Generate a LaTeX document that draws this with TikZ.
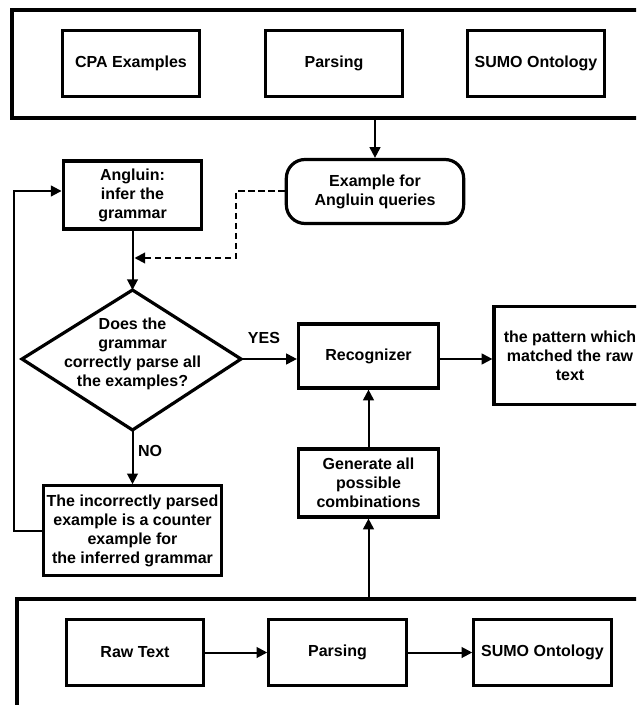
\documentclass[tikz,border=0pt]{standalone}
\usepackage{fontspec}
\setmainfont{Liberation Sans}
\usetikzlibrary{arrows.meta,fit}
\begin{document}
\begin{tikzpicture}[x=0.75pt,y=-0.75pt,
 box/.style={draw, line width=2.4pt, rectangle, align=center, font=\fontsize{12}{14.3}\selectfont\bfseries, inner sep=1pt},
 rowbox/.style={box, minimum width=103pt, minimum height=50pt},
 frame/.style={draw, line width=2.4pt, rectangle, inner sep=0pt},
 conn/.style={line width=1.5pt, -{Triangle[length=8pt,width=8pt]}},
 lbl/.style={font=\fontsize{12}{14.3}\selectfont\bfseries, inner sep=0pt}]
\useasboundingbox (0,0) rectangle (636,705);
\clip (0,0) rectangle (636,705);

% top frame and its boxes
\node[frame, fit={(12,10) (690,118)}] (topframe) {};
\node[rowbox] (cpa) at (131,63.5) {CPA Examples};
\node[rowbox] (par1) at (334,63.5) {Parsing};
\node[rowbox] (sumo1) at (536,63.5) {SUMO Ontology};

% middle part
\node[box, rounded corners=14pt, minimum width=133pt, minimum height=48pt] (exq) at (375,191.5) {Example for\\Angluin queries};
\node[box, minimum width=104pt, minimum height=51pt] (ang) at (132.5,195) {Angluin:\\infer the\\grammar};

\coordinate (dT) at (132.5,290);
\coordinate (dR) at (241,359);
\coordinate (dB) at (132.5,430);
\coordinate (dL) at (22,359);
\draw[line width=2.4pt, line join=miter] (dT) -- (dR) -- (dB) -- (dL) -- cycle;
\node[lbl, align=center] (dtext) at (132.5,354) {Does the\\grammar\\correctly parse all\\the examples?};

\node[box, minimum width=105pt, minimum height=48pt] (rec) at (368.5,356) {Recognizer};
\node[box, minimum width=114pt, minimum height=73pt] (pat) at (570,355.5) {the pattern which\\matched the raw\\text};
\node[box, minimum width=105pt, minimum height=51pt] (gen) at (368.5,483) {Generate all\\possible\\combinations};
\node[box, minimum width=134pt, minimum height=67pt] (inc) at (132.5,530.5) {The incorrectly parsed\\example is a counter\\example for\\the inferred grammar};

\node[lbl] (yes) at (264,338) {YES};
\node[lbl] (no) at (150,451) {NO};

% bottom frame and its boxes
\node[frame, fit={(17,599) (690,770)}] (botframe) {};
\node[rowbox] (raw) at (135,652.5) {Raw Text};
\node[rowbox] (par2) at (337.5,652.5) {Parsing};
\node[rowbox] (sumo2) at (542.5,652.5) {SUMO Ontology};

% connectors
\draw[conn] (topframe.south -| exq.north) -- (exq.north);
\draw[conn] (ang.south) -- (dT);
\coordinate (dashend) at (134.5,258);
\draw[conn, dash pattern=on 5pt off 2.5pt] (exq.west) -- (236,191.5) -- (236,258) -- (dashend);
\draw[conn] (dR) -- (rec.west |- dR);
\draw[conn] (rec.east |- dR) -- (pat.west |- dR);
\draw[conn] (dB) -- (inc.north);
\coordinate (fb) at (14,191);
\draw[conn] (inc.west) -| (fb) -- (ang.west |- fb);
\draw[conn] (gen.north) -- (rec.south);
\draw[conn] (botframe.north -| gen.south) -- (gen.south);
\draw[conn] (raw) -- (par2);
\draw[conn] (par2) -- (sumo2);
\end{tikzpicture}
\end{document}
